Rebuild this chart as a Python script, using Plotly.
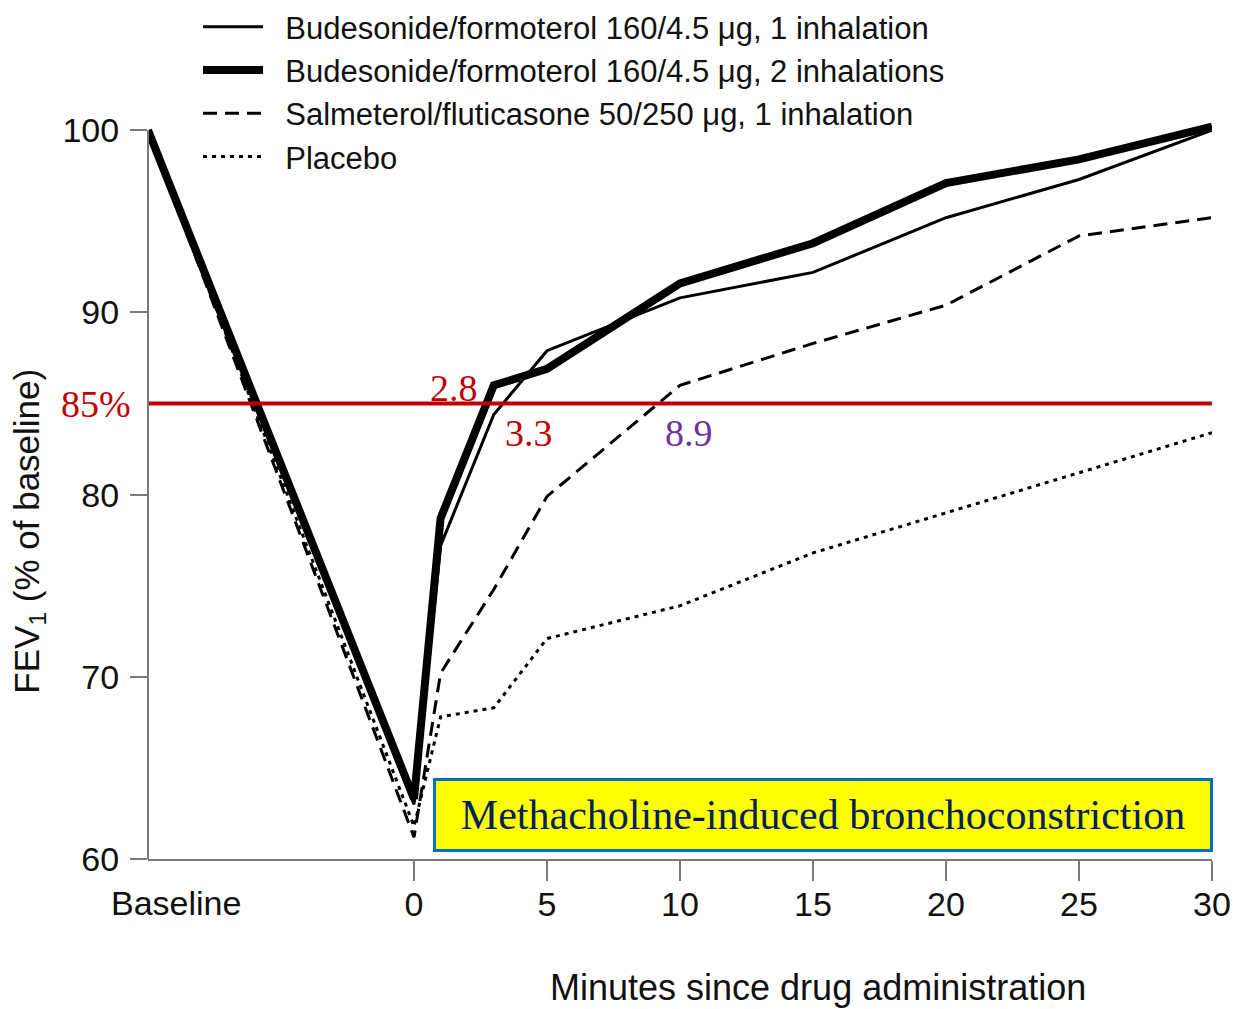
import plotly.graph_objects as go

# Time points: -10 stands for the pre-challenge baseline, then minutes after dosing
minutes = [-10, 0, 1, 3, 5, 10, 15, 20, 25, 30]

# FEV1 as % of baseline for each treatment arm
bud_1_inh = [100, 63.0, 77.2, 84.4, 87.9, 90.8, 92.2, 95.2, 97.3, 100.0]
bud_2_inh = [100, 63.3, 78.7, 86.0, 86.9, 91.6, 93.8, 97.1, 98.4, 100.2]
salm_flut = [100, 61.2, 70.2, 74.8, 79.9, 86.0, 88.3, 90.4, 94.2, 95.2]
placebo = [100, 61.8, 67.8, 68.3, 72.1, 73.9, 76.8, 79.0, 81.2, 83.4]

series_names = [
    "Budesonide/formoterol 160/4.5 μg, 1 inhalation",
    "Budesonide/formoterol 160/4.5 μg, 2 inhalations",
    "Salmeterol/fluticasone 50/250 μg, 1 inhalation",
    "Placebo",
]

minute_ticks = [0, 5, 10, 15, 20, 25, 30]
fev_ticks = [60, 70, 80, 90, 100]
threshold = 85
onset_times = ["2.8", "3.3", "8.9"]

SANS = "Liberation Sans, Arial, Helvetica, sans-serif"
SERIF = "Liberation Serif, Times New Roman, serif"
AXIS_GREY = "#7a7a7a"
NBSP = "\u00a0"

fig = go.Figure()

styles = [
    dict(width=3, dash="solid"),
    dict(width=8, dash="solid"),
    dict(width=3, dash="14px,8px"),
    dict(width=3, dash="4px,5px"),
]
for name, vals, st in zip(series_names, [bud_1_inh, bud_2_inh, salm_flut, placebo], styles):
    fig.add_trace(go.Scatter(
        x=minutes, y=vals, mode="lines", name=NBSP * 2 + name,
        line=dict(color="black", width=st["width"], dash=st["dash"]),
    ))

# 85 % threshold line
fig.add_shape(type="line", xref="x", yref="y", x0=-10, x1=30, y0=threshold, y1=threshold,
              line=dict(color="#c00000", width=4))

# y axis spine stopping at 100 (the plot area reaches higher to hold the legend)
fig.add_shape(type="line", xref="paper", yref="y", x0=0, x1=0, y0=60, y1=100,
              line=dict(color=AXIS_GREY, width=2))

ann = []
ann.append(dict(text=f"{threshold}%", xref="paper", yref="y", x=-0.014, y=threshold,
                xanchor="right", yanchor="middle", showarrow=False,
                font=dict(family=SERIF, size=38, color="#c00000")))
ann.append(dict(text=onset_times[0], xref="x", yref="y", x=1.5, y=85.85,
                xanchor="center", yanchor="middle", showarrow=False,
                font=dict(family=SERIF, size=38, color="#c00000")))
ann.append(dict(text=onset_times[1], xref="x", yref="y", x=4.32, y=83.37,
                xanchor="center", yanchor="middle", showarrow=False,
                font=dict(family=SERIF, size=38, color="#c00000")))
ann.append(dict(text=onset_times[2], xref="x", yref="y", x=10.34, y=83.37,
                xanchor="center", yanchor="middle", showarrow=False,
                font=dict(family=SERIF, size=38, color="#7030a0")))
ann.append(dict(text="Methacholine-induced bronchoconstriction", xref="x", yref="y",
                x=15.39, y=62.44, xanchor="center", yanchor="middle", showarrow=False,
                width=772, height=66, bgcolor="#ffff00", bordercolor="#0070c0",
                borderwidth=3, borderpad=1,
                font=dict(family=SERIF, size=42, color="#002060")))
ann.append(dict(text="Baseline", xref="x", yref="paper", x=-8.95, y=-0.0512,
                xanchor="center", yanchor="middle", showarrow=False,
                font=dict(family=SANS, size=34, color="#111")))
ann.append(dict(text="Minutes since drug administration", xref="x", yref="paper",
                x=15.19, y=-0.150, xanchor="center", yanchor="middle", showarrow=False,
                font=dict(family=SANS, size=36, color="#111")))
ann.append(dict(text="FEV<sub>1</sub> (% of baseline)", xref="paper", yref="paper",
                x=-0.112, y=0.382, xanchor="center", yanchor="middle", textangle=-90,
                showarrow=False, font=dict(family=SANS, size=35, color="#111")))

fig.update_layout(
    width=1237, height=1009,
    margin=dict(l=148, r=25, t=0, b=150),
    paper_bgcolor="white", plot_bgcolor="white",
    showlegend=True,
    legend=dict(x=0.047, y=1.0, xanchor="left", yanchor="top",
                font=dict(family=SANS, size=31, color="#111"),
                itemwidth=60, bgcolor="rgba(0,0,0,0)", tracegroupgap=0),
    annotations=ann,
    xaxis=dict(range=[-10, 30], tickvals=minute_ticks, ticktext=[str(t) for t in minute_ticks],
               showgrid=False, zeroline=False, showline=True, linecolor=AXIS_GREY, linewidth=2,
               ticks="outside", ticklen=20, tickwidth=2, tickcolor=AXIS_GREY, tickangle=0,
               ticklabelstandoff=-6,
               tickfont=dict(family=SANS, size=34, color="#111"), automargin=False),
    yaxis=dict(range=[60, 107.15], tickvals=fev_ticks, ticktext=[str(t) for t in fev_ticks],
               showgrid=False, zeroline=False, showline=False,
               ticks="outside", ticklen=17, tickwidth=2, tickcolor=AXIS_GREY,
               ticklabelstandoff=4,
               tickfont=dict(family=SANS, size=34, color="#111"), automargin=False),
)

fig.write_html("out.html")
